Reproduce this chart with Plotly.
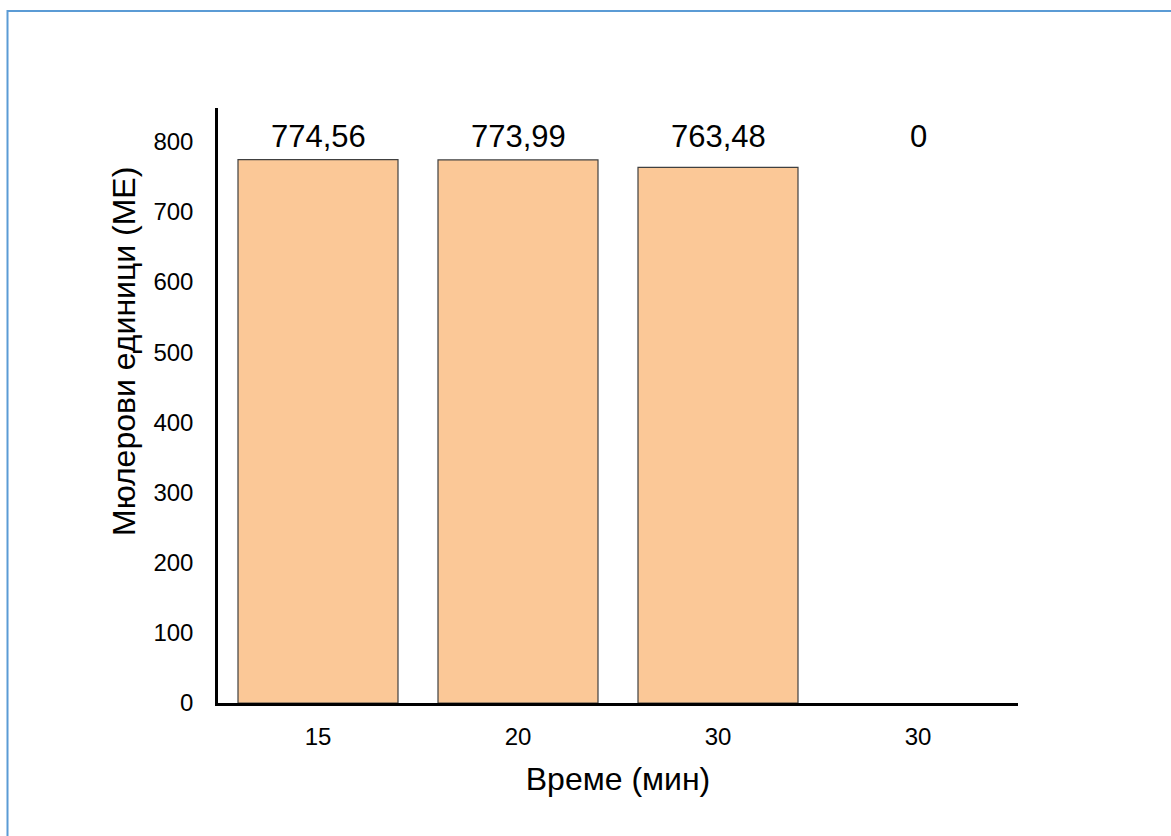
import plotly.graph_objects as go

# Measured activity by time point
time_labels = ["15", "20", "30", "30"]
activity_me = [774.56, 773.99, 763.48, 0]

x_pos = list(range(len(time_labels)))


def fmt(v):
    if v == 0:
        return "0"
    return f"{v:.2f}".replace(".", ",")


FONT = "Liberation Sans, Arial, sans-serif"

# Plot area geometry in pixels
W, H = 1171, 836
L, R, T, B = 218, 153, 108, 133
pw, ph = W - L - R, H - T - B


def px_x(p):
    return (p - L) / pw


def px_y(p):
    return (H - B - p) / ph


fig = go.Figure()
fig.add_trace(go.Bar(
    x=x_pos,
    y=activity_me,
    width=0.8,
    marker=dict(
        color="#FBC897",
        line=dict(color="#404040", width=[1.2 if v else 0 for v in activity_me]),
    ),
    hoverinfo="y",
    showlegend=False,
))

# Value labels sit in a row just above the tallest bars
for xi, v in zip(x_pos, activity_me):
    fig.add_annotation(
        x=xi, y=808, xref="x", yref="y",
        text=fmt(v), showarrow=False,
        font=dict(family=FONT, size=31, color="#000000"),
        yanchor="middle",
    )

# Vertical axis title
fig.add_annotation(
    x=px_x(124), y=px_y(352), xref="paper", yref="paper",
    text="Мюлерови единици (МЕ)", textangle=-90, showarrow=False,
    font=dict(family=FONT, size=32, color="#000000"),
    xanchor="center", yanchor="middle",
)

# Outer frame line (top and left edges)
fig.add_shape(
    type="rect", xref="paper", yref="paper",
    x0=px_x(7.5), x1=px_x(1300), y0=px_y(950), y1=px_y(11),
    line=dict(color="#5B9BD5", width=2), fillcolor="rgba(0,0,0,0)",
    layer="below",
)

fig.update_layout(
    width=W, height=H,
    margin=dict(l=L, r=R, t=T, b=B),
    paper_bgcolor="white",
    plot_bgcolor="white",
    font=dict(family=FONT, color="#000000"),
    xaxis=dict(
        range=[-0.5, 3.5],
        tickmode="array",
        tickvals=x_pos,
        ticktext=time_labels,
        tickfont=dict(size=24),
        showgrid=False,
        zeroline=False,
        showline=True,
        linecolor="#000000",
        linewidth=2.5,
        ticks="",
        ticklabelstandoff=10,
        title=dict(text="Време (мин)", font=dict(size=32), standoff=20),
    ),
    yaxis=dict(
        range=[0, 848],
        tickvals=[0, 100, 200, 300, 400, 500, 600, 700, 800],
        tickfont=dict(size=24),
        showgrid=False,
        zeroline=False,
        showline=True,
        linecolor="#000000",
        linewidth=2.5,
        ticks="",
        ticklabelstandoff=17,
    ),
)

fig.write_html("out.html")
